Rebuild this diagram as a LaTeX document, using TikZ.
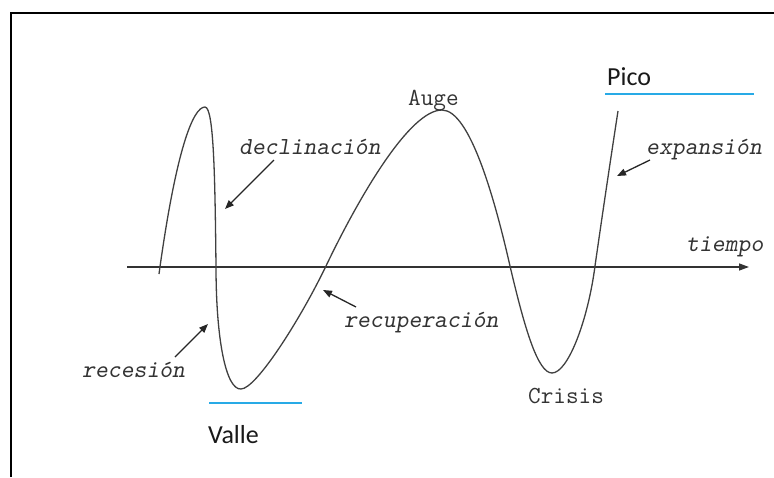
\documentclass[tikz,border=0pt]{standalone}
\usepackage{fontspec}
\newfontfamily\calib{Carlito}
\usetikzlibrary{arrows.meta}
\tikzset{
  lbl/.style={inner sep=0pt, anchor=base west, text=black!80, font=\ttfamily\fontsize{24.5}{28}\selectfont},
  ilbl/.style={lbl, font=\ttfamily\slshape\fontsize{24.5}{28}\selectfont},
  sanslbl/.style={inner sep=0pt, anchor=base west, text=black!90, font=\calib\fontsize{26}{30}\selectfont},
  curve/.style={draw=black!75, line width=1.3pt},
  ptr/.style={draw=black!85, line width=1.3pt, -{Triangle[length=9pt,width=7pt]}},
}
\definecolor{refblue}{RGB}{40,170,230}
\begin{document}
\begin{tikzpicture}[x=1pt,y=-1pt]
\useasboundingbox (0,0) rectangle (774,477);
% frame
\draw[line width=2pt, black] (11,477) -- (11,13) -- (774,13);
% axis
\coordinate (ax0) at (127,267);
\coordinate (ax1) at (749,267);
\draw[draw=black!80, line width=1.3pt, -{Triangle[length=10pt,width=7pt]}] (ax0) -- (ax1);
% curve
\draw[curve] (159,274) .. controls (176,150) and (193,107) .. (205,107)
  .. controls (214,107) and (215,180) .. (216,266)
  .. controls (216,340) and (226,390) .. (241,389)
  .. controls (256,389) and (300,320) .. (326,266)
  .. controls (360,195) and (410,110) .. (442,110)
  .. controls (470,110) and (495,200) .. (510,266)
  .. controls (525,330) and (538,373) .. (552,373)
  .. controls (568,373) and (588,320) .. (595,266)
  .. controls (603,210) and (612,150) .. (618,111);
% labels
\node[ilbl] (decl) at (239,154) {declinación};
\node[lbl] (auge) at (408,105) {Auge};
\node[sanslbl] (pico) at (607,85) {Pico};
\node[ilbl] (expa) at (646,154) {expansión};
\node[ilbl] (tiem) at (686,251) {tiempo};
\node[ilbl] (rece) at (82,377) {recesión};
\node[ilbl] (recu) at (344,327) {recuperación};
\node[lbl] (cris) at (528,403) {Crisis};
\node[sanslbl] (valle) at (208,443) {Valle};
% blue lines
\coordinate (pb0) at (605,94);
\coordinate (pb1) at (754,94);
\coordinate (vb0) at (209,403);
\coordinate (vb1) at (302,403);
\draw[draw=refblue, line width=1.6pt] (pb0) -- (pb1);
\draw[draw=refblue, line width=1.6pt] (vb0) -- (vb1);
% pointer arrows
\coordinate (d0) at (274,160); \coordinate (d1) at (225,209);
\coordinate (e0) at (650,160); \coordinate (e1) at (617,176);
\coordinate (r0) at (175,357); \coordinate (r1) at (208,324);
\coordinate (u0) at (356,307); \coordinate (u1) at (323,290);
\draw[ptr] (d0) -- (d1);
\draw[ptr] (e0) -- (e1);
\draw[ptr] (r0) -- (r1);
\draw[ptr] (u0) -- (u1);
\end{tikzpicture}
\end{document}
